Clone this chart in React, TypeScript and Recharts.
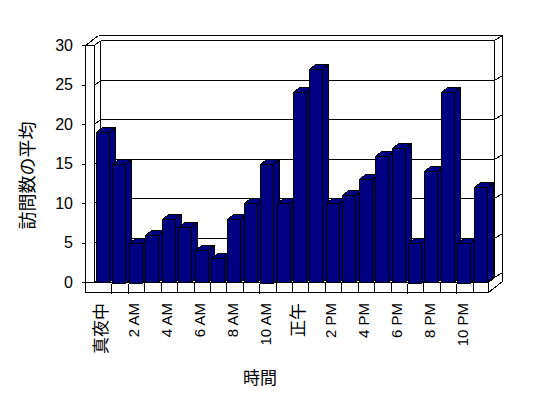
import React from "react";
import { BarChart, Bar, XAxis, YAxis, CartesianGrid } from "recharts";

const hours = [
  "真夜中", "1 AM", "2 AM", "3 AM", "4 AM", "5 AM", "6 AM", "7 AM", "8 AM", "9 AM", "10 AM", "11 AM",
  "正午", "1 PM", "2 PM", "3 PM", "4 PM", "5 PM", "6 PM", "7 PM", "8 PM", "9 PM", "10 PM", "11 PM",
];
const visits = [19, 15, 5, 6, 8, 7, 4, 3, 8, 10, 15, 10, 24, 27, 10, 11, 13, 16, 17, 5, 14, 24, 5, 12];
const yTicks = [0, 5, 10, 15, 20, 25, 30];

const data = hours.map((hour, i) => ({ hour, visits: visits[i] }));

const FONT = "'Liberation Sans', 'Noto Sans CJK JP', sans-serif";
const NAVY = "#000080";
// depth of floor/back wall, and of the outer box
const DX = 6;
const DY = -5;
const OX = 14;
const OY = -10;
const WALL = 9;
const FLOOR = 10;

function Seg({ a, b, c, d }: { a: number; b: number; c: number; d: number }) {
  return <line x1={a} y1={b} x2={c} y2={d} stroke="#000" strokeWidth={1} />;
}

function GridLine(props: any) {
  const { x1, x2, y1, index, x, y, width, height } = props;
  const yy = Math.round(y1) + 0.5;
  const L = Math.round(x ?? x1) + 0.5;
  const R = Math.round((x ?? x1) + (width ?? x2 - x1)) + 0.5;
  const T = Math.round(y ?? 45) + 0.5;
  const B = Math.round((y ?? 45) + (height ?? 237)) + 0.5;
  return (
    <g key={`g-${index}`} shapeRendering="crispEdges">
      {index === 0 && (
        <g>
          {/* walls and floor of the 3d box */}
          <polygon
            points={`${L - WALL},${T} ${L - WALL + 13},${T + OY} ${R + OX},${T + OY} ${R + OX},${B - 1} ${R},${B + FLOOR} ${L - WALL},${B + FLOOR}`}
            fill="#fff"
            stroke="none"
          />
          <Seg a={L - WALL} b={T} c={L - WALL} d={B + FLOOR} />
          <Seg a={L} b={T} c={L} d={B} />
          <Seg a={L - WALL} b={T} c={L} d={T} />
          <Seg a={L - WALL} b={T} c={L - WALL + 13} d={T + OY} />
          <Seg a={L} b={T} c={L + DX} d={T + DY} />
          <Seg a={L - WALL + 13} b={T + OY} c={R + OX} d={T + OY} />
          <Seg a={L + DX} b={T + DY} c={L + DX} d={B + DY} />
          <Seg a={R + DX} b={T + DY} c={R + DX} d={B + DY} />
          <Seg a={R + OX} b={T + OY} c={R + OX} d={B - 1} />
          <Seg a={R} b={B + FLOOR} c={R + OX} d={B - 1} />
          <Seg a={L - WALL} b={B} c={R} d={B} />
          <Seg a={L - WALL} b={B + FLOOR} c={R} d={B + FLOOR} />
          <Seg a={R} b={B} c={R} d={B + FLOOR} />
          <Seg a={R} b={B} c={R + DX} d={B + DY} />
        </g>
      )}
      <Seg a={L + DX} b={yy + DY} c={R + DX} d={yy + DY} />
      <Seg a={L} b={yy} c={L + DX} d={yy + DY} />
      <Seg a={R + DX} b={yy + DY} c={R + OX} d={yy + OY} />
    </g>
  );
}

function Bar3D(props: any) {
  const { x, y, width, height, index } = props;
  if (width == null || height == null) return null;
  const x0 = Math.round(x) + 0.5;
  const y0 = Math.round(y) + 0.5;
  const w = Math.round(width);
  const h = Math.round(height);
  const bottom = y0 + h;
  return (
    <g shapeRendering="crispEdges">
      <rect x={x0} y={y0} width={w} height={h} fill={NAVY} stroke="#000" />
      <polygon
        points={`${x0},${y0} ${x0 + DX},${y0 + DY} ${x0 + w + DX},${y0 + DY} ${x0 + w},${y0}`}
        fill={NAVY}
        stroke="#000"
      />
      <polygon
        points={`${x0 + w},${y0} ${x0 + w + DX},${y0 + DY} ${x0 + w + DX},${bottom + DY} ${x0 + w},${bottom}`}
        fill={NAVY}
        stroke="#000"
      />
      {index > 0 && <line x1={x0 - 1} y1={bottom} x2={x0 - 1} y2={bottom + FLOOR} stroke="#000" />}
    </g>
  );
}

function YTick({ x, y, payload }: any) {
  return (
    <g>
      <line x1={x - 12} y1={Math.round(y) + 0.5} x2={x - 9} y2={Math.round(y) + 0.5} stroke="#000" shapeRendering="crispEdges" />
      <text x={x - 21} y={y} dy="0.35em" textAnchor="end" fontSize={16} fontFamily={FONT} fill="#000">
        {payload.value}
      </text>
    </g>
  );
}

function XTick({ x, y, payload }: any) {
  const label = String(payload.value);
  const cjk = /[^\x00-\x7f]/.test(label);
  return (
    <g transform={`translate(${x - 1},${y + 21})`}>
      <text transform="rotate(-90)" textAnchor="end" dy="0.35em" fontSize={cjk ? 17 : 15} fontFamily={FONT} fill="#000">
        {label}
      </text>
    </g>
  );
}

function YLabel(props: any) {
  const vb = props.viewBox ?? { x: 0, y: 45, width: 94, height: 237 };
  const cx = vb.x + 28;
  const cy = vb.y + vb.height / 2 + 12;
  return (
    <text x={cx} y={cy} transform={`rotate(-90, ${cx}, ${cy})`} textAnchor="middle" dy="0.35em" fontSize={18} fontFamily={FONT} fill="#000">
      訪問数の平均
    </text>
  );
}

function XLabel(props: any) {
  const vb = props.viewBox ?? { x: 94, y: 282, width: 394, height: 116 };
  return (
    <text x={vb.x + vb.width / 2 - 31} y={vb.y + 96} dy="0.35em" textAnchor="middle" fontSize={17} fontFamily={FONT} fill="#000">
      時間
    </text>
  );
}

export default function App() {
  return (
    <div style={{ position: "absolute", left: 0, top: 0, width: 548, height: 398, background: "#fff" }}>
      <BarChart width={548} height={398} data={data} margin={{ top: 45, right: 60, bottom: 0, left: 0 }}>
        <CartesianGrid vertical={false} horizontal={(p: any) => <GridLine {...p} />} />
        <XAxis
          dataKey="hour"
          height={116}
          interval={1}
          axisLine={false}
          tickLine={false}
          tickSize={0}
          tickMargin={0}
          tick={<XTick />}
          label={<XLabel />}
        />
        <YAxis
          width={94}
          domain={[0, 30]}
          ticks={yTicks}
          axisLine={false}
          tickLine={false}
          tickSize={0}
          tickMargin={0}
          tick={<YTick />}
          label={<YLabel />}
        />
        <Bar dataKey="visits" barSize={13} shape={<Bar3D />} isAnimationActive={false} />
      </BarChart>
    </div>
  );
}
